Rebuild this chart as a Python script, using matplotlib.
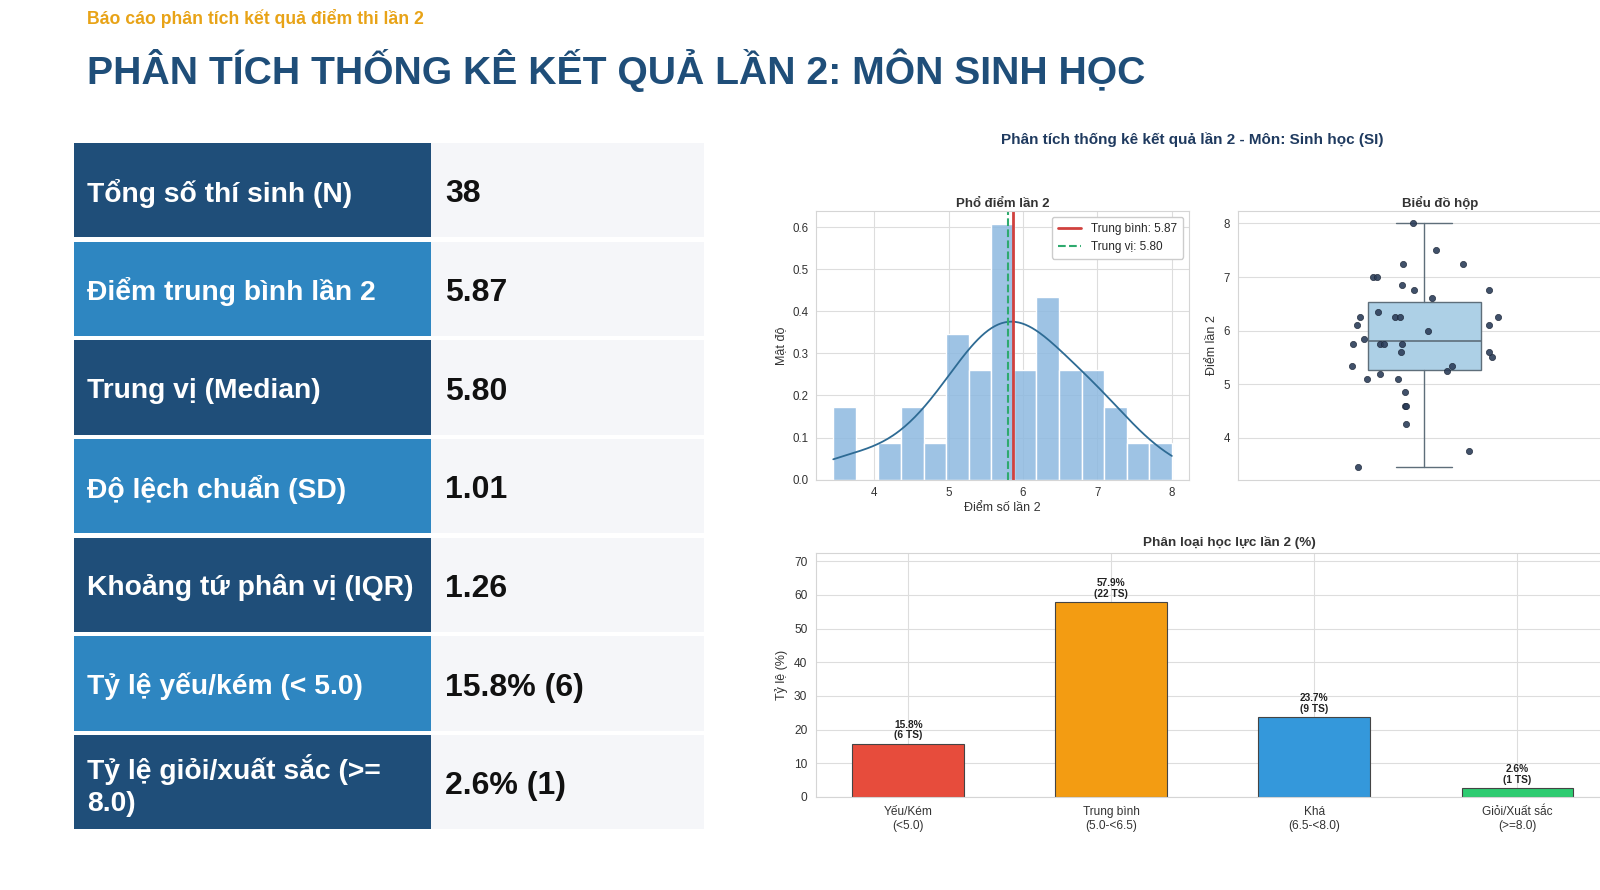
import numpy as np
import matplotlib
matplotlib.use('Agg')
import matplotlib.pyplot as plt
from matplotlib.patches import Rectangle
import seaborn as sns

# ---- data ----
stat_labels = ['Tổng số thí sinh (N)', 'Điểm trung bình lần 2', 'Trung vị (Median)',
               'Độ lệch chuẩn (SD)', 'Khoảng tứ phân vị (IQR)', 'Tỷ lệ yếu/kém (< 5.0)',
               'Tỷ lệ giỏi/xuất sắc (>=\n8.0)']
stat_values = ['38', '5.87', '5.80', '1.01', '1.26', '15.8% (6)', '2.6% (1)']

# scores of the 38 candidates (sorted) and their horizontal jitter in the box plot
scores = [3.45, 3.75, 4.25, 4.6, 4.6, 4.85, 5.1, 5.1, 5.2, 5.25,
          5.35, 5.35, 5.5, 5.6, 5.6, 5.75, 5.75, 5.75, 5.75, 5.85,
          6.0, 6.1, 6.1, 6.25, 6.25, 6.25, 6.25, 6.35, 6.6, 6.75,
          6.75, 6.85, 7.0, 7.0, 7.25, 7.25, 7.5, 8.0]
jitter = [-0.178, 0.118, -0.049, -0.051, -0.049, -0.053, -0.154, -0.071, -0.118, 0.061,
          -0.195, 0.073, 0.182, -0.062, 0.173, -0.191, -0.118, -0.108, -0.061, -0.163,
          0.009, -0.180, 0.172, -0.172, -0.078, -0.065, 0.198, -0.125, 0.020, -0.027,
          0.173, -0.059, -0.139, -0.126, -0.058, 0.102, 0.030, -0.032]
mean_score = 5.87
median_score = 5.80

grade_labels = ['Yếu/Kém\n(<5.0)', 'Trung bình\n(5.0-<6.5)', 'Khá\n(6.5-<8.0)', 'Giỏi/Xuất sắc\n(>=8.0)']
grade_pct = [15.8, 57.9, 23.7, 2.6]
grade_count = [6, 22, 9, 1]
grade_colors = ['#E74C3C', '#F39C12', '#3498DB', '#2ECC71']

sns.set_style('whitegrid')
plt.rcParams['font.family'] = ['Liberation Sans', 'DejaVu Sans']
plt.rcParams['axes.edgecolor'] = '#d5d5d5'
plt.rcParams['grid.color'] = '#dddddd'

# layout units: the slide measured at 1568 px wide
W, H = 1568, 872.2
fig = plt.figure(figsize=(16, 8.9), dpi=100)
fig.patch.set_facecolor('white')


def px_axes(l, t, r, b):
    return fig.add_axes([l / W, 1 - b / H, (r - l) / W, (b - t) / H])


# ---- slide background, headings and stats table ----
bg = fig.add_axes([0, 0, 1, 1])
bg.set_xlim(0, W)
bg.set_ylim(H, 0)
bg.axis('off')

bg.text(85, 18, 'Báo cáo phân tích kết quả điểm thi lần 2', color='#E8A317',
        fontsize=12.7, fontweight='bold', va='center')
bg.text(85, 69, 'PHÂN TÍCH THỐNG KÊ KẾT QUẢ LẦN 2: MÔN SINH HỌC', color='#1F4E79',
        fontsize=28.2, fontweight='bold', va='center')

row_top = 140
row_h = 96.7
gap = 4
for i, (lab, val) in enumerate(zip(stat_labels, stat_values)):
    y0 = row_top + i * row_h
    color = '#1F4E79' if i % 2 == 0 else '#2E86C1'
    bg.add_patch(Rectangle((73, y0), 349, row_h - gap, facecolor=color, edgecolor='none'))
    bg.add_patch(Rectangle((422, y0), 268, row_h - gap, facecolor='#F5F6F9', edgecolor='none'))
    yc = y0 + (row_h - gap) / 2 + 3
    bg.text(85, yc, lab, color='white', fontsize=20.3, fontweight='bold', va='center',
            linespacing=1.3)
    bg.text(436, yc + 1, val, color='#111111', fontsize=23, fontweight='bold', va='center')

bg.text(1168, 137, 'Phân tích thống kê kết quả lần 2 - Môn: Sinh học (SI)', color='#1F3A5F',
        fontsize=11, fontweight='bold', ha='center', va='center')

tick_fs = 8.3
txt_col = '#333333'

# ---- histogram ----
ax1 = px_axes(800, 207, 1165, 470)
sns.histplot(scores, bins=15, stat='density', color='#8DB9E0', alpha=0.85,
             edgecolor='white', linewidth=1, ax=ax1)
sns.kdeplot(scores, cut=0, color='#2E6B94', linewidth=1.3, ax=ax1)
ax1.axvline(mean_score, color='#D0413E', linewidth=2, label=f'Trung bình: {mean_score:.2f}')
ax1.axvline(median_score, color='#2EAA6E', linewidth=1.5, linestyle='--',
            label=f'Trung vị: {median_score:.2f}')
ax1.set_title('Phổ điểm lần 2', fontsize=9.5, fontweight='bold', color=txt_col, pad=3)
ax1.set_xlabel('Điểm số lần 2', fontsize=9, color=txt_col, labelpad=2)
ax1.set_ylabel('Mật độ', fontsize=9, color=txt_col)
ax1.set_xticks([4, 5, 6, 7, 8])
ax1.set_yticks([0.0, 0.1, 0.2, 0.3, 0.4, 0.5, 0.6])
ax1.set_yticklabels(['0.0', '0.1', '0.2', '0.3', '0.4', '0.5', '0.6'])
ax1.tick_params(labelsize=tick_fs, colors=txt_col, pad=2)
ax1.legend(loc='upper right', fontsize=8.5, frameon=True, framealpha=1,
           edgecolor='#cccccc', borderpad=0.5)

# ---- box plot with jittered points ----
ax2 = px_axes(1213, 207, 1610, 470)
ax2.boxplot(scores, positions=[0], widths=0.3, patch_artist=True, showfliers=False,
            boxprops=dict(facecolor='#ADD0E6', edgecolor='#5E6E7A', linewidth=1),
            medianprops=dict(color='#5E6E7A', linewidth=1.2),
            whiskerprops=dict(color='#5E6E7A', linewidth=1),
            capprops=dict(color='#5E6E7A', linewidth=1), capwidths=0.15)
ax2.scatter(jitter, scores, s=20, color='#2C3E5A', edgecolor='#1A2536', linewidth=0.5,
            alpha=0.9, zorder=3)
ax2.set_xlim(-0.5, -0.5 + 397 / 366)
ax2.set_ylim(3.2225, 8.2275)
ax2.set_xticks([])
ax2.set_yticks([4, 5, 6, 7, 8])
ax2.grid(axis='x', visible=False)
ax2.set_title('Biểu đồ hộp', fontsize=9.5, fontweight='bold', color=txt_col, pad=3)
ax2.set_ylabel('Điểm lần 2', fontsize=9, color=txt_col)
ax2.tick_params(labelsize=tick_fs, colors=txt_col, pad=2)

# ---- grade classification bars ----
ax3 = px_axes(800, 542, 1610, 781)
x = np.arange(len(grade_labels))
bars = ax3.bar(x, grade_pct, width=0.55, color=grade_colors, edgecolor='#444444', linewidth=0.8)
for b, p, c in zip(bars, grade_pct, grade_count):
    ax3.text(b.get_x() + b.get_width() / 2, b.get_height() + 1, f'{p:.1f}%\n({c} TS)',
             ha='center', va='bottom', fontsize=7.3, fontweight='bold', color='#222222',
             linespacing=1.1)
ax3.set_xlim(-0.4525, -0.4525 + 810 / 199)
ax3.set_ylim(0, 72.4)
ax3.set_xticks(x)
ax3.set_xticklabels(grade_labels)
ax3.set_yticks(range(0, 71, 10))
ax3.set_title('Phân loại học lực lần 2 (%)', fontsize=9.7, fontweight='bold', color=txt_col, pad=5)
ax3.set_ylabel('Tỷ lệ (%)', fontsize=9, color=txt_col)
ax3.tick_params(labelsize=8.6, colors=txt_col, pad=3)

fig.savefig('out.png', dpi=100, facecolor='white')
